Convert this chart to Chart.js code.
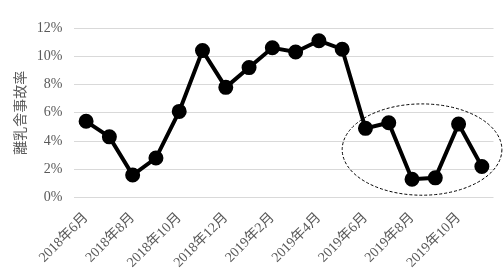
<!DOCTYPE html>
<html><head><meta charset="utf-8">
<script src="https://cdn.jsdelivr.net/npm/chart.js@4/dist/chart.umd.min.js"></script>
<style>html,body{margin:0;padding:0;background:#fff}#wrap{width:503px;height:276px}</style>
</head><body><div id="wrap"><canvas id="c" width="503" height="276"></canvas></div>
<script>
const months = ["2018年6月","2018年7月","2018年8月","2018年9月","2018年10月","2018年11月","2018年12月","2019年1月","2019年2月","2019年3月","2019年4月","2019年5月","2019年6月","2019年7月","2019年8月","2019年9月","2019年10月","2019年11月"];
const accidentRate = [5.4,4.3,1.6,2.8,6.1,10.4,7.8,9.2,10.6,10.3,11.1,10.5,4.9,5.3,1.3,1.4,5.2,2.2];
const yTitle = "離乳舎事故率";
// highlight ellipse in data units: center index, center value, half-width (categories), half-height (%)
const ellipseCenter = [14.43, 3.4];
const ellipseRadius = [3.43, 3.23];

const ellipsePlugin = {
  id: 'ellipse',
  afterDatasetsDraw(chart) {
    const {ctx, scales:{x, y}} = chart;
    const cx = x.getPixelForValue(ellipseCenter[0]);
    const cy = y.getPixelForValue(ellipseCenter[1]);
    const rx = Math.abs(x.getPixelForValue(ellipseCenter[0] + ellipseRadius[0]) - cx);
    const ry = Math.abs(y.getPixelForValue(ellipseCenter[1] + ellipseRadius[1]) - cy);
    ctx.save();
    ctx.beginPath();
    ctx.ellipse(cx, cy, rx, ry, 0, 0, Math.PI*2);
    ctx.setLineDash([3,2]);
    ctx.lineWidth = 1;
    ctx.strokeStyle = '#000';
    ctx.stroke();
    ctx.restore();
  }
};

new Chart(document.getElementById('c'), {
  type: 'line',
  data: { labels: months, datasets: [{
    data: accidentRate, borderColor:'#000', backgroundColor:'#000', borderWidth:4,
    pointRadius:5.5, pointHoverRadius:5.5, pointBackgroundColor:'#000', pointBorderColor:'#000', tension:0
  }]},
  options: {
    responsive:false, animation:false,
    layout:{padding:{top:28,right:8,left:3,bottom:1}},
    plugins:{legend:{display:false}, tooltip:{enabled:false}},
    scales:{
      x:{ offset:true, grid:{display:false}, border:{display:false},
        ticks:{ autoSkip:false, maxRotation:45, minRotation:45, color:'#595959', padding:4,
          font:{family:'"Liberation Serif","Noto Sans CJK JP"', size:14},
          callback:(v,i)=> i%2===0 ? months[i] : '' } },
      y:{ min:0, max:12, grid:{color:'#d9d9d9', drawTicks:false}, border:{display:false},
        ticks:{ stepSize:2, padding:12, color:'#595959', font:{family:'"Liberation Serif"', size:14}, callback:v=>v+'%' },
        title:{ display:true, text:yTitle, color:'#595959', font:{family:'"Noto Sans CJK JP"', size:14}, padding:{top:8,bottom:-3} } }
    }
  },
  plugins:[ellipsePlugin]
});
</script></body></html>
